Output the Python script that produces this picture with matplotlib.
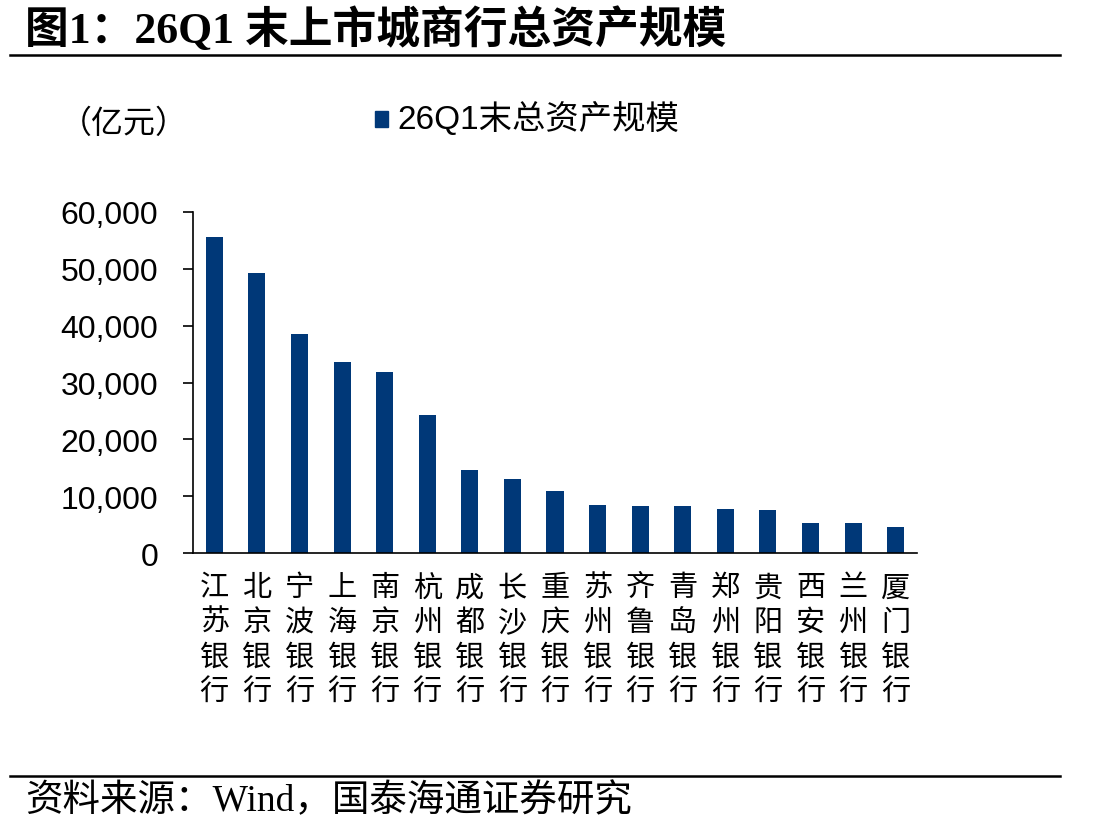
"""Bar chart: total assets of listed city commercial banks at end of 26Q1."""

import matplotlib

matplotlib.use("Agg")
import matplotlib.pyplot as plt
from matplotlib.lines import Line2D
from matplotlib.patches import Rectangle
from matplotlib.ticker import FuncFormatter

plt.rcParams["font.family"] = ["Liberation Sans", "Noto Sans CJK SC"]

BANKS = [
    "江苏银行", "北京银行", "宁波银行", "上海银行", "南京银行", "杭州银行",
    "成都银行", "长沙银行", "重庆银行", "苏州银行", "齐鲁银行", "青岛银行",
    "郑州银行", "贵阳银行", "西安银行", "兰州银行", "厦门银行",
]
ASSETS = [
    55580, 49300, 38500, 33600, 31870, 24240,
    14610, 13030, 10920, 8450, 8270, 8220,
    7690, 7510, 5280, 5230, 4520,
]
SERIES_LABEL = "26Q1末总资产规模"
UNIT_LABEL = "（亿元）"
TITLE = "图1：26Q1 末上市城商行总资产规模"
SOURCE = "资料来源：Wind，国泰海通证券研究"

BAR_COLOR = "#003878"
CJK_SERIF = ["Liberation Serif", "Noto Sans CJK SC"]

W, H = 1108, 837
fig = plt.figure(figsize=(W / 100, H / 100), dpi=100)

ax = fig.add_axes([193 / W, (H - 554) / H, 724 / W, 341 / H])
xs = range(len(BANKS))
ax.bar(xs, ASSETS, width=0.4, color=BAR_COLOR)
ax.set_xlim(-0.5, len(BANKS) - 0.5)
ax.set_ylim(0, 60000)
ax.set_yticks(range(0, 60001, 10000))
ax.yaxis.set_major_formatter(FuncFormatter(lambda v, _: f"{int(v):,}"))
ax.tick_params(axis="y", labelsize=23, length=7, width=1.2, direction="out", pad=18)
ax.set_xticks(list(xs))
ax.set_xticklabels(["\n".join(b) for b in BANKS], fontsize=21,
                   family=["Noto Sans CJK SC"], linespacing=1.2)
ax.tick_params(axis="x", length=0, pad=14)
for side in ("top", "right"):
    ax.spines[side].set_visible(False)
for side in ("left", "bottom"):
    ax.spines[side].set_linewidth(1.2)

# header
fig.text(25 / W, 1 - 30 / H, TITLE, fontsize=31.5, fontweight="bold",
         family=CJK_SERIF, va="center", ha="left")
fig.add_artist(Line2D([10 / W, 1060 / W], [1 - 56 / H] * 2, color="black", lw=1.8))

# unit + legend
fig.text(60 / W, 1 - 124 / H, UNIT_LABEL, fontsize=23,
         family=["Noto Sans CJK SC"], va="center", ha="left")
fig.add_artist(Rectangle((375 / W, 1 - 128 / H), 13 / W, 16 / H,
                         color=BAR_COLOR, transform=fig.transFigure))
fig.text(397 / W, 1 - 119 / H, SERIES_LABEL, fontsize=24, va="center", ha="left")

# footer
fig.add_artist(Line2D([10 / W, 1060 / W], [1 - 777 / H] * 2, color="black", lw=1.8))
fig.text(25 / W, 1 - 801 / H, SOURCE, fontsize=27, family=CJK_SERIF,
         va="center", ha="left")

fig.savefig("out.png", dpi=100)
plt.close(fig)
